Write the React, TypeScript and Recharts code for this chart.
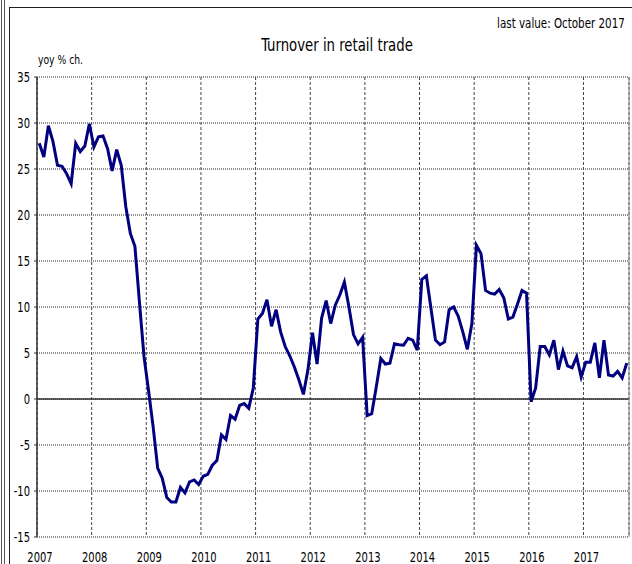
import { LineChart, Line, XAxis, YAxis, CartesianGrid, ReferenceLine } from 'recharts';

// yoy % change, one value per month (Jan..Dec)
const y2007 = [27.8, 26.3, 29.7, 28.0, 25.4, 25.3, 24.5, 23.4, 27.8, 26.9, 27.5, 29.9];
const y2008 = [27.4, 28.5, 28.6, 27.2, 24.8, 27.1, 25.4, 20.9, 18.0, 16.6, 10.5, 4.6];
const y2009 = [0.9, -3.0, -7.5, -8.6, -10.7, -11.2, -11.2, -9.6, -10.2, -9.0, -8.8, -9.3];
const y2010 = [-8.4, -8.2, -7.2, -6.7, -3.9, -4.4, -1.8, -2.2, -0.7, -0.5, -1.0, 1.2];
const y2011 = [8.7, 9.3, 10.8, 7.9, 9.7, 7.3, 5.7, 4.7, 3.5, 2.1, 0.5, 3.2];
const y2012 = [7.2, 3.8, 8.8, 10.7, 8.2, 10.2, 11.3, 12.7, 10.0, 7.0, 6.0, 6.7];
const y2013 = [-1.8, -1.6, 1.3, 4.4, 3.8, 3.9, 6.0, 5.9, 5.85, 6.6, 6.4, 5.3];
const y2014 = [13.0, 13.4, 9.9, 6.4, 5.9, 6.2, 9.7, 10.0, 9.0, 7.3, 5.4, 8.2];
const y2015 = [16.7, 15.8, 11.8, 11.5, 11.4, 11.9, 11.0, 8.7, 8.9, 10.3, 11.8, 11.5];
const y2016 = [-0.3, 1.2, 5.7, 5.7, 4.8, 6.4, 3.2, 5.2, 3.6, 3.4, 4.6, 2.4];
const y2017 = [4.0, 4.0, 6.1, 2.3, 6.4, 2.6, 2.5, 3.0, 2.3, 3.9]; // to October

const years = ['2007', '2008', '2009', '2010', '2011', '2012', '2013', '2014', '2015', '2016', '2017'];
const yTicks = [-15, -10, -5, 0, 5, 10, 15, 20, 25, 30, 35];

const values = [
  ...y2007, ...y2008, ...y2009, ...y2010, ...y2011, ...y2012,
  ...y2013, ...y2014, ...y2015, ...y2016, ...y2017,
];
const data = values.map((v, i) => ({ t: i + 0.5, v }));
const xTicks = years.map((_, i) => i * 12);

const FONT = "'DejaVu Sans Condensed', 'DejaVu Sans', sans-serif";
const SQUEEZE = 0.82;

const YearTick = (props: any) => {
  const { x, y, payload } = props;
  return (
    <g transform={`translate(${x + 3},${y + 17})`}>
      <text transform={`scale(${SQUEEZE},1)`} textAnchor="middle" fontSize={13.5} fontFamily={FONT} fill="#000">
        {years[payload.value / 12]}
      </text>
    </g>
  );
};

const ValueTick = (props: any) => {
  const { x, y, payload } = props;
  return (
    <g transform={`translate(${x},${y})`}>
      <text transform={`scale(${SQUEEZE},1)`} textAnchor="end" dy="0.36em" fontSize={13.5} fontFamily={FONT} fill="#000">
        {payload.value}
      </text>
    </g>
  );
};

const App = () => {
  return (
    <div style={{ position: 'absolute', left: 0, top: 0, width: 632, height: 564, overflow: 'hidden', background: '#fff' }}>
      {/* page frame */}
      <div style={{ position: 'absolute', left: 1, top: 0, width: 1, height: 564, background: '#555' }} />
      <div style={{ position: 'absolute', left: 4, top: 0, width: 1, height: 564, background: '#555' }} />
      <div style={{ position: 'absolute', left: 9, top: 7, width: 700, height: 600, border: '1.5px solid #222' }} />

      <div style={{ position: 'absolute', right: 7, top: 15, fontFamily: FONT, fontSize: 14, color: '#000', whiteSpace: 'nowrap', transform: `scaleX(${SQUEEZE})`, transformOrigin: 'right center' }}>
        last value: October 2017
      </div>
      <div style={{ position: 'absolute', left: 337, top: 34, transform: `translateX(-50%) scaleX(${SQUEEZE})`, fontFamily: FONT, fontSize: 18, color: '#000', whiteSpace: 'nowrap' }}>
        Turnover in retail trade
      </div>
      <div style={{ position: 'absolute', left: 38, top: 52, fontFamily: FONT, fontSize: 12.5, color: '#000', whiteSpace: 'nowrap', transform: `scaleX(${SQUEEZE})`, transformOrigin: 'left center' }}>
        yoy % ch.
      </div>

      <div style={{ position: 'absolute', left: 0, top: 0 }}>
        <LineChart width={632} height={564} data={data} margin={{ top: 77, right: 3, bottom: 0, left: 0 }}>
          <CartesianGrid vertical={false} strokeDasharray="1 1" stroke="#222" />
          <CartesianGrid horizontal={false} strokeDasharray="3 2" stroke="#444" />
          <XAxis
            type="number"
            dataKey="t"
            domain={[0, 130]}
            ticks={xTicks}
            interval={0}
            height={27}
            axisLine={false}
            tickLine={false}
            tick={<YearTick />}
            allowDataOverflow
          />
          <YAxis
            type="number"
            domain={[-15, 35]}
            ticks={yTicks}
            interval={0}
            width={37}
            axisLine={{ stroke: '#333', strokeWidth: 1.5 }}
            tickLine={{ stroke: '#333' }}
            tickSize={3}
            tickMargin={4}
            tick={<ValueTick />}
          />
          <ReferenceLine y={0} stroke="#333" strokeWidth={1.5} />
          <ReferenceLine x={130} stroke="#888" strokeWidth={1} />
          <Line
            type="linear"
            dataKey="v"
            stroke="#000080"
            strokeWidth={3}
            dot={false}
            isAnimationActive={false}
          />
        </LineChart>
      </div>
    </div>
  );
};

export default App;
